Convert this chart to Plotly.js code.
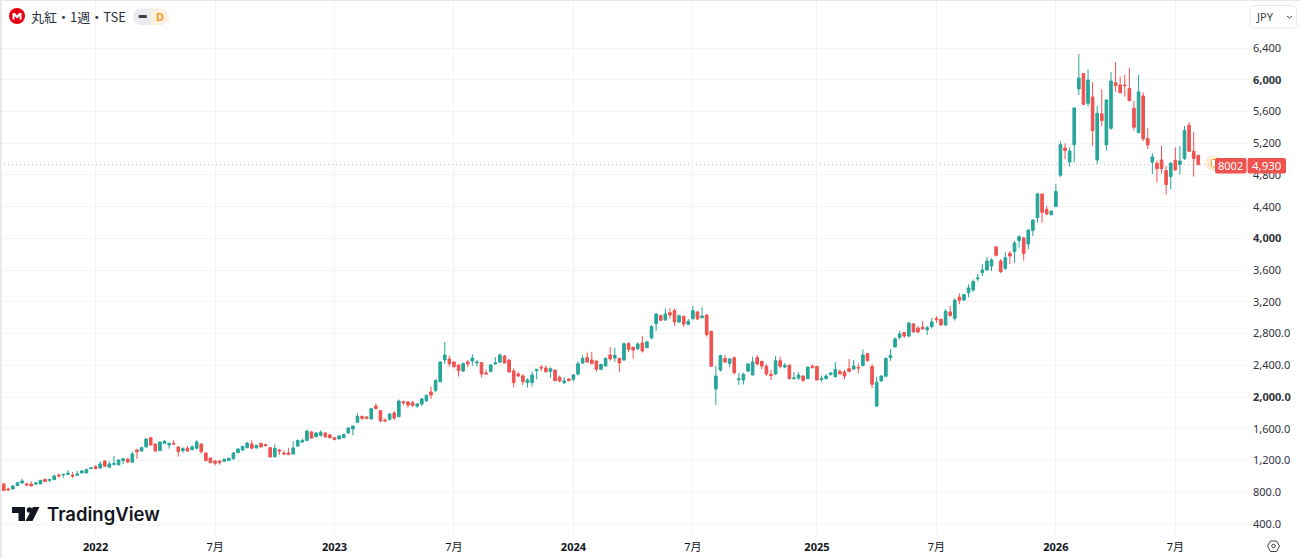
<!DOCTYPE html>
<html><head><meta charset="utf-8">
<script src="https://cdn.plot.ly/plotly-3.0.1.min.js"></script>
<style>html,body{margin:0;padding:0;background:#fff}#c{width:1301px;height:558px}</style>
</head><body><div id="c"></div>
<script>
const firstWeek = '2021-08-16';
const opens = [905,842,842,884,917,905,905,905,905,963,
951,959,1018,1018,1026,1018,1014,1043,1043,1098,
1123,1106,1194,1115,1153,1144,1199,1220,1178,1333,
1320,1371,1488,1408,1325,1417,1396,1417,1371,1325,
1354,1337,1354,1408,1295,1232,1194,1194,1190,1199,
1224,1299,1333,1362,1409,1358,1417,1400,1362,1249,
1333,1295,1295,1283,1383,1434,1451,1560,1501,1518,
1547,1522,1488,1472,1488,1547,1598,1682,1757,1749,
1724,1887,1829,1711,1719,1799,1753,1942,1938,1929,
1887,1913,1955,2064,2085,2194,2467,2480,2442,2404,
2329,2442,2454,2433,2434,2304,2320,2417,2442,2518,
2467,2329,2291,2266,2182,2182,2333,2375,2366,2325,
2341,2249,2182,2228,2224,2291,2430,2497,2467,2455,
2350,2392,2530,2493,2488,2467,2673,2627,2610,2682,
2623,2745,2925,3026,2971,3064,3089,2946,3018,2917,
2992,3072,3001,3034,2829,2102,2341,2488,2425,2496,
2219,2215,2328,2278,2496,2450,2387,2286,2291,2459,
2379,2404,2232,2240,2265,2232,2391,2387,2219,2232,
2286,2257,2324,2316,2358,2354,2375,2397,2548,2384,
1888,2203,2262,2497,2632,2754,2812,2770,2922,2871,
2880,2850,2888,2989,2980,2909,3073,2993,3262,3224,
3316,3350,3489,3568,3602,3652,3892,3715,3623,3812,
3833,3972,4005,3930,4102,4261,4560,4366,4299,4401,
4796,5140,4964,5182,5884,6077,5703,5783,4989,5569,
5178,5388,5963,5934,5934,5888,5640,5333,5795,5258,
4960,4947,4989,4855,4779,4985,4930,5006,5426,5098,5048];
const highs = [913,858,892,930,968,921,934,930,955,968,
972,1022,1039,1031,1077,1056,1068,1081,1089,1119,
1140,1190,1198,1190,1257,1211,1236,1228,1308,1350,
1375,1480,1492,1412,1438,1459,1430,1459,1379,1367,
1383,1396,1459,1417,1299,1236,1207,1203,1228,1232,
1304,1350,1383,1434,1455,1400,1421,1413,1370,1404,
1346,1325,1354,1446,1467,1480,1585,1572,1560,1581,
1560,1539,1490,1522,1534,1618,1640,1795,1765,1757,
1858,1921,1832,1732,1795,1824,1971,1955,1950,1950,
1925,1988,2030,2131,2223,2450,2694,2522,2450,2412,
2438,2467,2543,2467,2442,2350,2412,2505,2551,2530,
2476,2362,2316,2291,2236,2320,2350,2404,2396,2375,
2345,2270,2249,2241,2291,2450,2526,2560,2572,2463,
2421,2497,2631,2619,2497,2686,2694,2635,2690,2770,
2711,2908,3055,3040,3114,3123,3118,3038,3026,2984,
3148,3089,3131,3043,2835,2391,2534,2530,2488,2509,
2303,2307,2425,2509,2530,2459,2417,2341,2517,2509,
2429,2408,2316,2312,2278,2383,2412,2391,2274,2291,
2312,2442,2349,2341,2480,2467,2425,2602,2552,2418,
2258,2272,2493,2607,2754,2833,2821,2947,2930,2896,
2959,2896,2997,3022,2989,3111,3148,3245,3308,3300,
3421,3484,3552,3678,3766,3749,3904,3741,3825,3841,
3967,4039,4022,4114,4240,4576,4568,4408,4350,4687,
5224,5199,5149,5650,6325,6085,6131,5972,5669,5879,
5750,6098,6224,6039,6064,6148,5732,6060,5837,5392,
5073,4981,5165,4913,4964,5149,5165,5417,5468,5342,5050];
const lows = [821,825,837,880,913,880,875,888,905,930,
926,955,989,984,1018,980,1005,1039,1043,1094,
1094,1098,1123,1102,1136,1144,1157,1165,1169,1220,
1312,1367,1392,1312,1320,1408,1350,1396,1249,1299,
1312,1329,1341,1287,1190,1165,1136,1148,1182,1195,
1207,1295,1320,1354,1346,1354,1367,1375,1245,1236,
1270,1278,1270,1278,1375,1421,1451,1476,1493,1501,
1488,1480,1460,1468,1484,1540,1518,1673,1711,1724,
1720,1845,1678,1690,1703,1711,1745,1904,1866,1879,
1862,1887,1938,1976,2060,2185,2417,2383,2370,2257,
2316,2375,2391,2383,2249,2287,2320,2413,2425,2421,
2308,2123,2257,2152,2119,2131,2224,2325,2308,2245,
2205,2186,2165,2198,2194,2270,2417,2434,2413,2320,
2341,2383,2459,2442,2316,2459,2568,2484,2593,2560,
2614,2728,2833,2960,2963,2988,2896,2938,2888,2908,
2971,2976,2992,2762,2385,1900,2320,2425,2379,2286,
2152,2160,2312,2274,2400,2349,2265,2215,2278,2362,
2362,2223,2223,2215,2186,2228,2362,2211,2194,2223,
2270,2244,2278,2223,2312,2341,2299,2384,2446,2115,
1872,2195,2255,2455,2623,2724,2745,2754,2815,2812,
2846,2783,2863,2934,2896,2892,3010,2964,3169,3215,
3258,3325,3459,3526,3594,3589,3770,3560,3602,3678,
3694,3883,3720,3862,4030,4198,4198,4295,4290,4395,
4775,5000,4905,4955,5808,5680,5661,5165,4939,5417,
5107,5367,5846,5829,5787,5728,5358,5325,5224,5123,
4813,4703,4813,4552,4620,4855,4804,4989,5090,4779,4930];
const closes = [821,829,879,921,942,892,879,917,951,934,
959,1005,1005,1026,1039,1005,1031,1068,1089,1106,
1098,1157,1127,1157,1161,1207,1224,1182,1283,1312,
1362,1471,1396,1320,1434,1442,1413,1408,1312,1350,
1320,1371,1434,1312,1199,1173,1165,1173,1215,1228,
1295,1346,1379,1421,1354,1392,1371,1392,1245,1354,
1320,1283,1274,1358,1451,1451,1572,1484,1547,1556,
1497,1488,1463,1509,1530,1610,1635,1757,1732,1728,
1854,1854,1703,1698,1787,1736,1950,1925,1900,1892,
1913,1976,2022,2026,2211,2442,2530,2421,2383,2333,
2421,2417,2492,2442,2291,2291,2404,2430,2530,2430,
2316,2182,2266,2194,2215,2278,2350,2366,2320,2358,
2207,2203,2203,2207,2278,2421,2488,2442,2421,2350,
2409,2488,2480,2526,2430,2673,2602,2593,2669,2581,
2694,2887,3047,2967,3047,3034,2946,3026,2921,2955,
3089,2984,3022,2787,2388,2265,2522,2442,2480,2307,
2228,2286,2417,2442,2417,2391,2291,2270,2459,2387,
2400,2232,2240,2278,2211,2379,2370,2215,2232,2265,
2303,2349,2295,2265,2324,2391,2366,2531,2460,2161,
2187,2266,2489,2523,2733,2796,2770,2934,2821,2821,
2859,2875,2947,2976,2909,3081,3027,3220,3220,3291,
3375,3455,3501,3602,3715,3728,3787,3581,3757,3778,
3942,4022,3808,4106,4232,4560,4329,4308,4345,4590,
5182,5107,5102,5644,6022,5690,5997,5359,5577,5485,
5745,5984,5926,5837,5926,5737,5400,5846,5254,5178,
5027,4880,4880,4678,4947,4863,4976,5359,5098,5006,4930];
const yTickVals = [400,800,1200,1600,2000,2400,2800,3200,3600,4000,4400,4800,5200,5600,6000,6400];
const yTickText = ['400.0','800.0','1,200.0','1,600.0','<b>2,000.0</b>','2,400.0','2,800.0','3,200','3,600','<b>4,000</b>','4,400','4,800','5,200','5,600','<b>6,000</b>','6,400'];
const xTickVals = ['2022-01-03','2022-07-04','2023-01-02','2023-07-03','2024-01-01','2024-07-01','2025-01-06','2025-07-07','2026-01-05','2026-07-06'];
const xTickText = ['<b>2022</b>','7月','<b>2023</b>','7月','<b>2024</b>','7月','<b>2025</b>','7月','<b>2026</b>','7月'];
const lastPrice = 4930;

const dates = opens.map((_, i) => new Date(Date.parse(firstWeek + 'T00:00:00Z') + i * 7 * 864e5).toISOString().slice(0, 10));
const UP = '#26a69a', DOWN = '#ef5350', GRID = '#f4f4f5', INK = '#131722', SOFT = '#3a3f4b';
const PW = 1247, PH = 534;
const fx = p => p / PW, fy = p => 1 - p / PH;
const pathPx = pts => pts.map((p, i) => (i ? 'L' : 'M') + fx(p[0]).toFixed(5) + ',' + fy(p[1]).toFixed(5)).join(' ') + ' Z';
const roundRect = (x0, y0, x1, y1, r) => {
  const a = []; const n = 5;
  [[x1 - r, y0 + r, -90], [x1 - r, y1 - r, 0], [x0 + r, y1 - r, 90], [x0 + r, y0 + r, 180]].forEach(c => {
    for (let k = 0; k <= n; k++) { const t = (c[2] + 90 * k / n) * Math.PI / 180; a.push([c[0] + r * Math.cos(t), c[1] + r * Math.sin(t)]); }
  });
  return pathPx(a);
};
const circle = (cx, cy, r) => ({type:'circle', xref:'paper', yref:'paper', x0:fx(cx-r), x1:fx(cx+r), y0:fy(cy+r), y1:fy(cy-r)});
const shp = (path, fill, line, w) => ({type:'path', xref:'paper', yref:'paper', path, fillcolor:fill, line:{color:line||'rgba(0,0,0,0)', width:w||0}});
const txt = (t, x, y, size, color, family, anchor, weight) => ({text:t, xref:'paper', yref:'paper', x:fx(x), y:fy(y), xanchor:anchor||'left', yanchor:'middle', showarrow:false, borderpad:0, font:{size, color, family, weight:weight||400}});

const shapes = [
  {type:'line', layer:'below', xref:'paper', yref:'y', x0:0, x1:1, y0:lastPrice, y1:lastPrice, line:{color:'rgba(150,130,130,0.55)', width:1, dash:'1px 3px'}},
  shp(pathPx([[0,0],[1.5,0],[1.5,558],[0,558]]), '#e4e4e6'),
  shp(pathPx([[0,0],[1301,0],[1301,1],[0,1]]), '#e9e9eb'),
  Object.assign(circle(1213, 163, 8), {fillcolor:'rgba(255,152,0,0.16)', line:{width:0}}),
  shp(roundRect(1211.5, 159.5, 1216, 167, 1), '#fff', '#f59a23', 1),
  shp(roundRect(1215, 158, 1246.5, 173.5, 2), DOWN),
  shp(roundRect(1247.5, 158, 1286, 173.5, 2), DOWN),
  // header
  Object.assign(circle(17, 16, 8), {fillcolor:'#e60012', line:{width:0}}),
  shp(pathPx([[12.5,19.5],[12.5,13],[15,13],[17,15.5],[19,13],[21.5,13],[21.5,19.5],[19.5,19.5],[19.5,16],[17,18.5],[14.5,16],[14.5,19.5]]), '#fff'),
  shp(roundRect(133, 8.5, 169, 25, 8), '#ebebed'),
  shp(pathPx([[151,8.5],[161,8.5],[165.5,10],[169,14],[169,20],[165.5,23.5],[161,25],[151,25]]), '#fdf1e0'),
  shp(roundRect(138.5, 15, 147, 18, 1.2), '#3c4048'),
  shp(roundRect(1250, 5.5, 1296.5, 28, 4), 'rgba(255,255,255,0)', '#e6e7ea', 1),
  {type:'path', xref:'paper', yref:'paper', path:`M${fx(1287)},${fy(16)} L${fx(1289.5)},${fy(18)} L${fx(1292)},${fy(16)}`, line:{color:'#3c4048', width:1}},
  // logo
  shp(pathPx([[12,507],[25,507],[25,521],[18.5,521],[18.5,513],[12,513]]), INK),
  Object.assign(circle(29.5, 510, 2.8), {fillcolor:INK, line:{width:0}}),
  shp(pathPx([[33,507],[39.5,507],[32.5,521],[25.5,521]]), INK),
  // settings icon
  shp(pathPx([[1267.5,546],[1270.5,541],[1276.5,541],[1279.5,546],[1276.5,551.5],[1270.5,551.5]]), 'rgba(255,255,255,0)', '#3c4048', 1),
  Object.assign(circle(1273.5, 546, 1.8), {fillcolor:'rgba(255,255,255,0)', line:{color:'#3c4048', width:1}})
];

const annotations = [
  txt('丸紅・1週・TSE', 29.5, 16.5, 13, '#2a2e39', '"Noto Sans CJK JP"'),
  txt('D', 159.5, 17, 11, '#f59a23', '"Noto Sans"', 'center', 700),
  txt('JPY', 1255, 17, 11, SOFT, '"Noto Sans"'),
  txt('TradingView', 46, 514, 18.5, INK, 'Inter', 'left', 600),
  txt('8002', 1230.5, 165.8, 11, '#fff', '"Noto Sans"', 'center'),
  txt('4,930', 1267, 165.8, 11.5, '#fff', '"Noto Sans"', 'center')
];

Plotly.newPlot('c', [{
  type:'candlestick', x:dates, open:opens, high:highs, low:lows, close:closes,
  increasing:{line:{color:UP, width:1}, fillcolor:UP},
  decreasing:{line:{color:DOWN, width:1}, fillcolor:DOWN},
  whiskerwidth:0, showlegend:false, hoverinfo:'skip'
}], {
  width:1301, height:558,
  margin:{l:0, r:54, t:0, b:24, pad:0},
  paper_bgcolor:'#fff', plot_bgcolor:'#fff',
  boxgap:0.18,
  showlegend:false,
  xaxis:{type:'date', range:['2021-08-10 09:00','2026-10-23 05:00'], rangeslider:{visible:false},
    tickmode:'array', tickvals:xTickVals, ticktext:xTickText, ticks:'', showgrid:true, gridcolor:GRID, gridwidth:1,
    zeroline:false, showline:false, tickangle:0, ticklabelstandoff:5, tickfont:{family:'"Noto Sans","Noto Sans CJK JP"', size:11, color:INK}},
  yaxis:{type:'linear', side:'right', range:[274,7005], tickmode:'array', tickvals:yTickVals, ticktext:yTickText,
    ticks:'', showgrid:true, gridcolor:GRID, gridwidth:1, zeroline:false, showline:false,
    tickfont:{family:'"Noto Sans"', size:11, color:'#2f333d'}, ticklabelstandoff:5},
  shapes, annotations
}, {displayModeBar:false, staticPlot:true});
</script></body></html>
